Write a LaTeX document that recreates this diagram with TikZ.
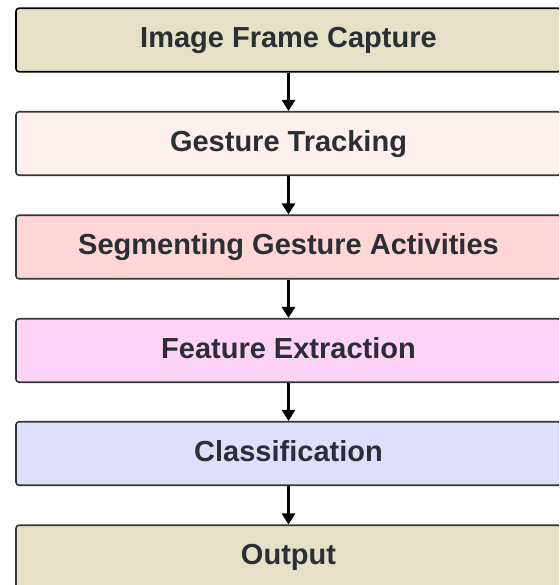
\documentclass[tikz,border=0pt]{standalone}
\usepackage{fontspec}
\setmainfont{Liberation Sans}
\usetikzlibrary{arrows.meta}
\definecolor{txt}{HTML}{2A2E35}
\definecolor{edge}{HTML}{33363B}
\definecolor{cA}{HTML}{E5E0C6}
\definecolor{cB}{HTML}{FFF0EE}
\definecolor{cC}{HTML}{FFD6D6}
\definecolor{cD}{HTML}{FED4F6}
\definecolor{cE}{HTML}{DEDFFD}
\tikzset{
  stagebox/.style={draw=edge, line width=1.6pt, rounded corners=3pt,
    minimum width=545pt, minimum height=63.5pt, inner sep=0pt,
    text=txt, font=\fontsize{29}{34}\selectfont\bfseries,
    text height=20.8pt, text depth=0pt},
  flow/.style={line width=3pt, -{Triangle[length=11pt,width=13pt]}, black}
}
\begin{document}
\begin{tikzpicture}[x=1pt,y=-1pt]
\useasboundingbox (0,0) rectangle (559,585);
\clip (0,0) rectangle (559,585);
\node[stagebox, fill=cA, draw=black] (n1) at (288.5,40) {\raisebox{2.5pt}{Image Frame Capture}};
\node[stagebox, fill=cB] (n2) at (288.5,143.5) {\raisebox{2.5pt}{Gesture Tracking}};
\node[stagebox, fill=cC] (n3) at (288.5,247) {\raisebox{2.5pt}{Segmenting Gesture Activities}};
\node[stagebox, fill=cD] (n4) at (288.5,350.5) {\raisebox{2.5pt}{Feature Extraction}};
\node[stagebox, fill=cE] (n5) at (288.5,453.5) {\raisebox{2.5pt}{Classification}};
\node[stagebox, fill=cA] (n6) at (288.5,557) {\raisebox{2.5pt}{Output}};
\draw[flow] (n1.south) -- (n2.north);
\draw[flow] (n2.south) -- (n3.north);
\draw[flow] (n3.south) -- (n4.north);
\draw[flow] (n4.south) -- (n5.north);
\draw[flow] (n5.south) -- (n6.north);
\end{tikzpicture}
\end{document}
